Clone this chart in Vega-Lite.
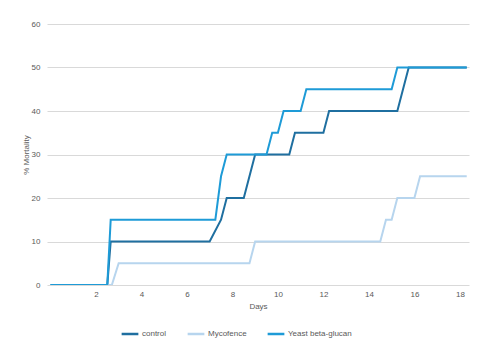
{
  "$schema": "https://vega.github.io/schema/vega-lite/v6.json",
  "width": 422,
  "height": 261,
  "autosize": {"type": "none"},
  "padding": {"left": 47, "top": 24, "right": 26, "bottom": 70},
  "config": {
    "font": "Liberation Sans",
    "view": {"stroke": null},
    "axis": {"labelColor": "#595959", "titleColor": "#595959", "labelFontSize": 8, "titleFontSize": 8, "titleFontWeight": "normal"}
  },
  "data": {
    "values": [
      {"series": "control", "day": 0, "mortality": 0},
      {"series": "control", "day": 2.5, "mortality": 0},
      {"series": "control", "day": 2.65, "mortality": 10},
      {"series": "control", "day": 7, "mortality": 10},
      {"series": "control", "day": 7.5, "mortality": 15},
      {"series": "control", "day": 7.75, "mortality": 20},
      {"series": "control", "day": 8.5, "mortality": 20},
      {"series": "control", "day": 9, "mortality": 30},
      {"series": "control", "day": 10.5, "mortality": 30},
      {"series": "control", "day": 10.75, "mortality": 35},
      {"series": "control", "day": 12, "mortality": 35},
      {"series": "control", "day": 12.25, "mortality": 40},
      {"series": "control", "day": 15.25, "mortality": 40},
      {"series": "control", "day": 15.75, "mortality": 50},
      {"series": "control", "day": 18.3, "mortality": 50},
      {"series": "Mycofence", "day": 0, "mortality": 0},
      {"series": "Mycofence", "day": 2.7, "mortality": 0},
      {"series": "Mycofence", "day": 3, "mortality": 5},
      {"series": "Mycofence", "day": 8.75, "mortality": 5},
      {"series": "Mycofence", "day": 9, "mortality": 10},
      {"series": "Mycofence", "day": 14.5, "mortality": 10},
      {"series": "Mycofence", "day": 14.75, "mortality": 15},
      {"series": "Mycofence", "day": 15, "mortality": 15},
      {"series": "Mycofence", "day": 15.25, "mortality": 20},
      {"series": "Mycofence", "day": 16, "mortality": 20},
      {"series": "Mycofence", "day": 16.25, "mortality": 25},
      {"series": "Mycofence", "day": 18.3, "mortality": 25},
      {"series": "Yeast beta-glucan", "day": 0, "mortality": 0},
      {"series": "Yeast beta-glucan", "day": 2.5, "mortality": 0},
      {"series": "Yeast beta-glucan", "day": 2.65, "mortality": 15},
      {"series": "Yeast beta-glucan", "day": 7.25, "mortality": 15},
      {"series": "Yeast beta-glucan", "day": 7.5, "mortality": 25},
      {"series": "Yeast beta-glucan", "day": 7.75, "mortality": 30},
      {"series": "Yeast beta-glucan", "day": 9.5, "mortality": 30},
      {"series": "Yeast beta-glucan", "day": 9.75, "mortality": 35},
      {"series": "Yeast beta-glucan", "day": 10, "mortality": 35},
      {"series": "Yeast beta-glucan", "day": 10.25, "mortality": 40},
      {"series": "Yeast beta-glucan", "day": 11, "mortality": 40},
      {"series": "Yeast beta-glucan", "day": 11.25, "mortality": 45},
      {"series": "Yeast beta-glucan", "day": 15, "mortality": 45},
      {"series": "Yeast beta-glucan", "day": 15.25, "mortality": 50},
      {"series": "Yeast beta-glucan", "day": 18.3, "mortality": 50}
    ]
  },
  "mark": {"type": "line", "strokeWidth": 2, "clip": true},
  "encoding": {
    "x": {
      "field": "day", "type": "quantitative", "title": "Days",
      "scale": {"domain": [-0.15, 18.4], "nice": false, "zero": false},
      "axis": {"values": [2, 4, 6, 8, 10, 12, 14, 16, 18], "grid": false, "domain": false, "ticks": false, "labelPadding": 5, "titlePadding": 4}
    },
    "y": {
      "field": "mortality", "type": "quantitative", "title": "% Mortality",
      "scale": {"domain": [0, 60], "nice": false},
      "axis": {"values": [0, 10, 20, 30, 40, 50, 60], "grid": true, "gridColor": "#d9d9d9", "domain": false, "ticks": false, "labelPadding": 7, "titlePadding": 1}
    },
    "color": {
      "field": "series", "type": "nominal",
      "scale": {"domain": ["control", "Mycofence", "Yeast beta-glucan"], "range": ["#1f6fa0", "#b7d5ee", "#1e9bd7"]},
      "legend": {
        "title": null, "orient": "none", "direction": "horizontal", "legendX": 73, "legendY": 300,
        "symbolType": "stroke", "symbolSize": 280, "symbolStrokeWidth": 2.5,
        "labelFontSize": 8, "labelColor": "#595959", "labelOffset": 2, "columnPadding": 15
      }
    }
  }
}
